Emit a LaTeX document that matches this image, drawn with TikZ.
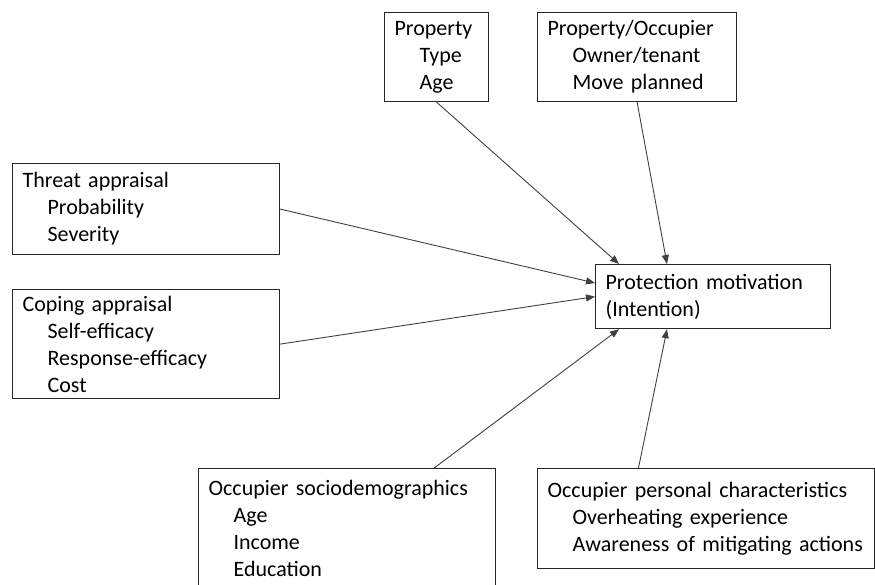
\documentclass[tikz,border=0pt]{standalone}
\usepackage{fontspec}
\setmainfont{Carlito}
\usetikzlibrary{arrows.meta,calc}
\newcommand{\ind}{\hspace*{25pt}}

\begin{document}
\begin{tikzpicture}[x=1pt,y=-1pt,
    box/.style={draw=black!85,line width=1.2pt,anchor=north west,align=left,
        inner xsep=10pt,inner ysep=0pt,font=\fontsize{22pt}{27pt}\selectfont},
    link/.style={draw=black!75,line width=0.9pt,-{Triangle[length=9pt,width=7pt]}}]
    \useasboundingbox (0,0) rectangle (875,584);
    % factors
    \node[box,text width=84pt,minimum height=89pt] (prop) at (384,12) {Property\\\ind Type\\\ind Age};
    \node[box,text width=179pt,minimum height=89pt] (propocc) at (537,12) {Property/Occupier\\\ind Owner/tenant\\\ind Move planned};
    \node[box,text width=247pt,minimum height=91pt] (threat) at (12,163) {Threat appraisal\\\ind Probability\\\ind Severity};
    \node[box,text width=247pt,minimum height=109pt] (coping) at (12,289) {Coping appraisal\\\ind Self-efficacy\\\ind Response-efficacy\\\ind Cost};
    \node[box,text width=277pt,minimum height=119pt] (socio) at (198,468) {Occupier sociodemographics\\\ind Age\\\ind Income\\\ind Education};
    \node[box,text width=317pt,minimum height=100pt] (personal) at (537,468) {Occupier personal characteristics\\\ind Overheating experience\\\ind Awareness of mitigating actions};
    % outcome
    \node[box,text width=215pt,minimum height=64pt] (prot) at (595,264) {Protection motivation\\(Intention)};
    % links
    \draw[link] (prop.south) -- ([xshift=24pt]prot.north west);
    \draw[link] (propocc.south) -- ([xshift=72pt]prot.north west);
    \draw[link] (threat.east) -- ([yshift=-19pt]prot.north west);
    \draw[link] (coping.east) -- (prot.west);
    \draw[link] ([xshift=-62pt]socio.north east) -- ([xshift=24pt]prot.south west);
    \draw[link] ($(personal.north west)!0.3!(personal.north east)$) -- ([xshift=72pt]prot.south west);
\end{tikzpicture}
\end{document}
